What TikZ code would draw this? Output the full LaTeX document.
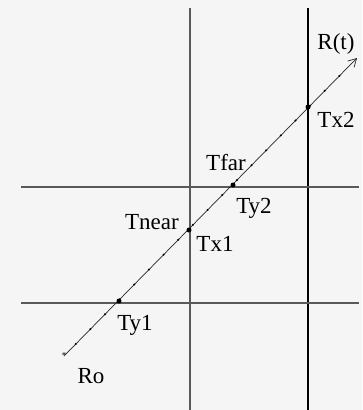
\documentclass[tikz,border=0pt]{standalone}
\usepackage{fontspec}
\setmainfont{Liberation Serif}
\usetikzlibrary{arrows.meta, calc}

\tikzset{
    gridline/.style={draw=black!65, line width=1.1pt},
    hitmark/.style={circle, fill=black, inner sep=0pt, minimum size=5pt},
    lbl/.style={font=\fontsize{23}{25}\selectfont, inner sep=0pt}
}

\begin{document}
\begin{tikzpicture}[x=1pt, y=-1pt]
    % canvas
    \fill[black!4] (0,0) rectangle (362,410);
    \useasboundingbox (0,0) rectangle (362,410);

    % slab lines
    \draw[gridline] (190,8) -- (190,410);
    \draw[black, line width=2.2pt] (308,8) -- (308,410);
    \draw[gridline] (21,187) -- (359,187);
    \draw[gridline] (21,303) -- (359,303);

    % ray
    \coordinate (ro) at (64,356);
    \coordinate (tip) at (357,58);
    \coordinate (ty1) at (119,301);
    \coordinate (tx1) at (189,230);
    \coordinate (ty2) at (233,185);
    \coordinate (tx2) at (308,107);

    \draw[black!85, line width=0.7pt, -{Straight Barb[length=8pt, width=9pt]}] (ro) -- (tip);
    \foreach \t in {0.04,0.09,...,0.96}
        \fill ($(ro)!\t!(tip)$) circle (1.1pt);
    \node[font=\small, inner sep=0pt] at (ro) {*};

    \foreach \p in {ty1, tx1, ty2, tx2}
        \node[hitmark] at (\p) {};

    % labels
    \node[lbl] (rt) at (336,44) {R(t)};
    \node[lbl] (ltx2) at (336,120) {Tx2};
    \node[lbl] (tfar) at (226,163) {Tfar};
    \node[lbl] (lty2) at (254,208) {Ty2};
    \node[lbl] (tnear) at (152,222) {Tnear};
    \node[lbl] (ltx1) at (215,244) {Tx1};
    \node[lbl] (lty1) at (135,325) {Ty1};
    \node[lbl] (lro) at (91,376) {Ro};
\end{tikzpicture}
\end{document}
